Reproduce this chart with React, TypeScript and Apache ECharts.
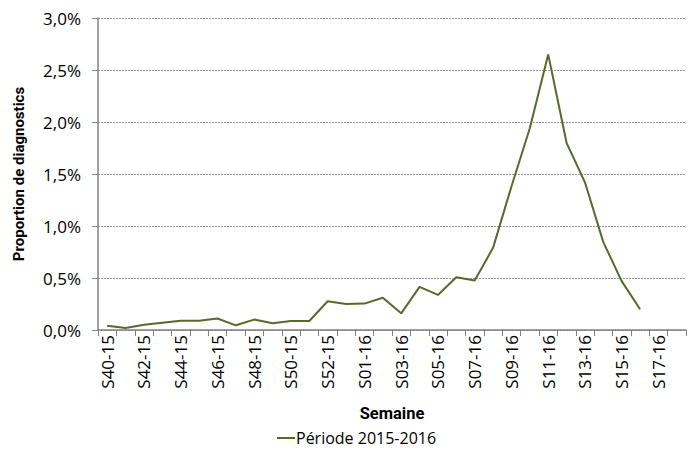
import React, { useEffect, useRef } from "react";
import * as echarts from "echarts";

const weeks2015 = ["S40-15","S41-15","S42-15","S43-15","S44-15","S45-15","S46-15","S47-15","S48-15","S49-15","S50-15","S51-15","S52-15","S53-15"];
const weeks2016 = ["S01-16","S02-16","S03-16","S04-16","S05-16","S06-16","S07-16","S08-16","S09-16","S10-16","S11-16","S12-16","S13-16","S14-16","S15-16","S16-16","S17-16","S18-16"];
const categories = [...weeks2015, ...weeks2016];

const periode20152016: (number | null)[] = [
  0.04, 0.02, 0.05, 0.07, 0.09, 0.09, 0.11, 0.045, 0.1, 0.065, 0.087, 0.087, 0.276, 0.25,
  0.254, 0.31, 0.16, 0.415, 0.337, 0.507, 0.475, 0.79, 1.38, 1.94, 2.65, 1.8, 1.42, 0.845, 0.47, 0.2, null, null,
];

const seriesName = "Période 2015-2016";
const yTicks = { min: 0, max: 3, interval: 0.5 };

const FONT = "'Open Sans', 'Noto Sans', sans-serif";
const BOLD_FONT = "Roboto, 'Open Sans', sans-serif";

export default function App() {
  const ref = useRef<HTMLDivElement>(null);
  useEffect(() => {
    if (!ref.current) return;
    const chart = echarts.init(ref.current, undefined, { renderer: "svg" });
    chart.setOption({
      animation: false,
      textStyle: { fontFamily: FONT },
      grid: { left: 98, right: 6, top: 18, bottom: 122 },
      legend: {
        bottom: 1,
        left: 272,
        itemWidth: 18,
        itemHeight: 2,
        itemGap: 4,
        icon: "rect",
        textStyle: { fontSize: 16, color: "#000", fontFamily: FONT, padding: [0, 0, 0, -4] },
        data: [seriesName],
      },
      xAxis: {
        type: "category",
        data: categories,
        boundaryGap: true,
        name: "Semaine",
        nameLocation: "middle",
        nameGap: 75,
        nameTextStyle: { fontSize: 16.5, fontWeight: "bold", color: "#000", fontFamily: BOLD_FONT },
        axisLine: { lineStyle: { color: "#808080", width: 1.5 } },
        axisTick: { show: true, alignWithLabel: false, interval: 0, length: 6, lineStyle: { color: "#808080" } },
        axisLabel: { rotate: 90, interval: 1, fontSize: 17, color: "#000", margin: 5, fontFamily: FONT },
      },
      yAxis: {
        type: "value",
        min: yTicks.min,
        max: yTicks.max,
        interval: yTicks.interval,
        name: "Proportion de diagnostics",
        nameLocation: "middle",
        nameGap: 72,
        nameRotate: 90,
        nameTextStyle: { fontSize: 15, fontWeight: "bold", color: "#000", fontFamily: BOLD_FONT },
        axisLine: { show: true, lineStyle: { color: "#808080", width: 1.5 } },
        axisTick: { show: true, length: 6, lineStyle: { color: "#808080" } },
        axisLabel: {
          fontSize: 17,
          color: "#000",
          margin: 17,
          fontFamily: FONT,
          formatter: (v: number) => v.toFixed(1).replace(".", ",") + "%",
        },
        splitLine: { show: true, lineStyle: { color: "#999", type: [2, 1], width: 1 } },
      },
      series: [
        {
          name: seriesName,
          type: "line",
          data: periode20152016,
          symbol: "none",
          lineStyle: { color: "#566b2a", width: 2 },
          itemStyle: { color: "#566b2a" },
        },
      ],
    });
    return () => chart.dispose();
  }, []);
  return <div ref={ref} style={{ width: 692, height: 452, position: "absolute", left: 0, top: 0 }} />;
}
